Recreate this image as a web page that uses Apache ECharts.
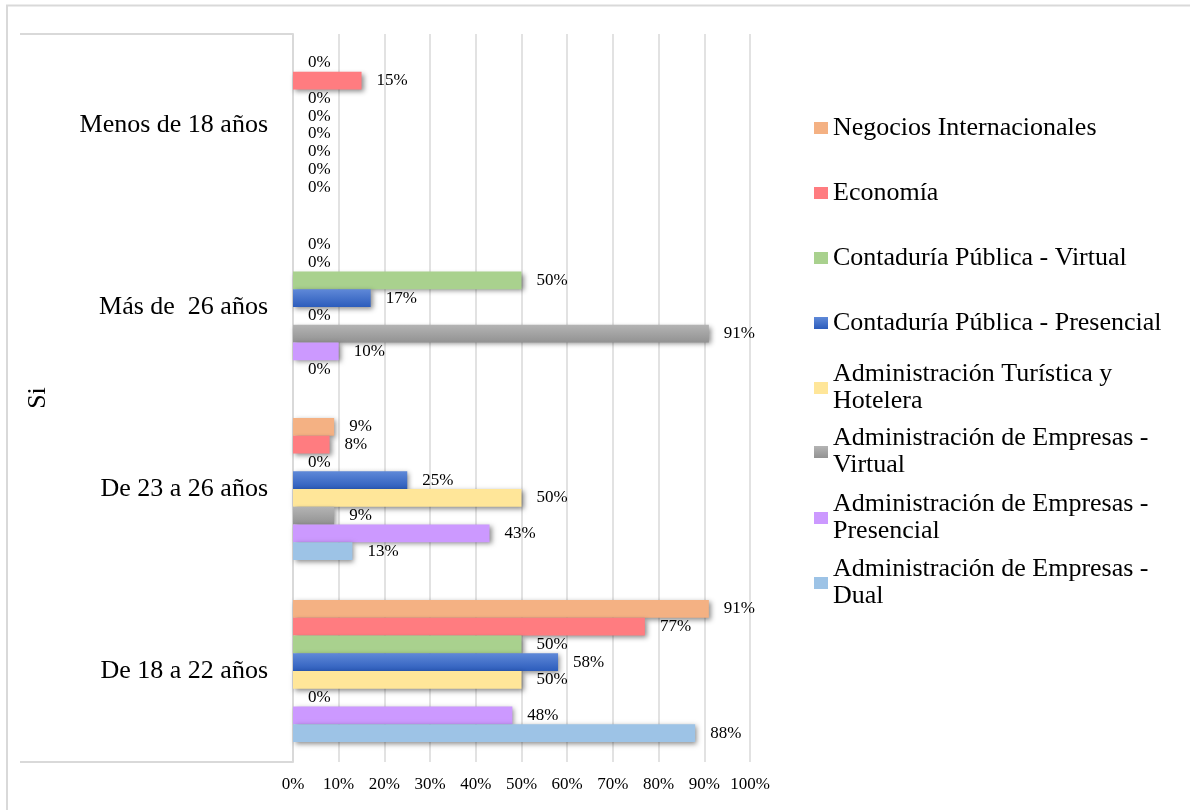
<!DOCTYPE html>
<html>
<head>
<meta charset="utf-8">
<script src="https://cdn.jsdelivr.net/npm/echarts@6/dist/echarts.min.js"></script>
<style>
  html, body { margin: 0; padding: 0; background: #fff; }
  #chart { width: 1190px; height: 810px; }
</style>
</head>
<body>
<div id="chart"></div>
<script>
// Age groups (bottom to top on the category axis)
const categories = ['De 18 a 22 años', 'De 23 a 26 años', 'Más de  26 años', 'Menos de 18 años'];
const outerGroup = ['Si'];

// Share of students per programme, in percent
const admDual       = [88, 13, 0, 0];
const admPresencial = [48, 43, 10, 0];
const admVirtual    = [0, 9, 91, 0];
const turistica     = [50, 50, 0, 0];
const contPresencial = [58, 25, 17, 0];
const contVirtual   = [50, 0, 50, 0];
const economia      = [77, 8, 0, 15];
const negocios      = [91, 9, 0, 0];

const xTicks = [0, 10, 20, 30, 40, 50, 60, 70, 80, 90, 100];

const FONT = '"Liberation Serif", "Times New Roman", serif';

// Listed top to bottom within each age group
const seriesDefs = [
  { name: 'Negocios Internacionales', data: negocios, color: '#F4B183' },
  { name: 'Economía', data: economia, color: '#FF7C80' },
  { name: 'Contaduría Pública - Virtual', data: contVirtual, color: '#A9D18E' },
  { name: 'Contaduría Pública - Presencial', data: contPresencial,
    color: { type: 'linear', x: 0, y: 0, x2: 0, y2: 1,
      colorStops: [{ offset: 0, color: '#5F89D8' }, { offset: 1, color: '#2C5CBC' }] } },
  { name: 'Administración Turística y Hotelera', data: turistica, color: '#FFE699' },
  { name: 'Administración de Empresas - Virtual', data: admVirtual,
    color: { type: 'linear', x: 0, y: 0, x2: 0, y2: 1,
      colorStops: [{ offset: 0, color: '#B4B4B4' }, { offset: 1, color: '#929292' }] } },
  { name: 'Administración de Empresas - Presencial', data: admPresencial, color: '#CC99FF' },
  { name: 'Administración de Empresas - Dual', data: admDual, color: '#9DC3E6' }
];

// Legend labels that wrap onto two lines
const wrapped = {
  'Administración Turística y Hotelera': 'Administración Turística y\nHotelera',
  'Administración de Empresas - Virtual': 'Administración de Empresas -\nVirtual',
  'Administración de Empresas - Presencial': 'Administración de Empresas -\nPresencial',
  'Administración de Empresas - Dual': 'Administración de Empresas -\nDual'
};

// Legend entries, top to bottom, with the y of each first text line
const legendSlots = [
  ['Negocios Internacionales', 128],
  ['Economía', 193],
  ['Contaduría Pública - Virtual', 258],
  ['Contaduría Pública - Presencial', 323],
  ['Administración Turística y Hotelera', 388],
  ['Administración de Empresas - Virtual', 452],
  ['Administración de Empresas - Presencial', 518],
  ['Administración de Empresas - Dual', 583]
];

const legends = legendSlots.map(([name, y]) => {
  const twoLines = !!wrapped[name];
  return {
    data: [name],
    left: 814,
    top: twoLines ? y - 40.5 : y - 13.5,
    orient: 'vertical',
    padding: 0,
    itemGap: 0,
    itemWidth: 14,
    itemHeight: 12,
    icon: 'rect',
    selectedMode: false,
    formatter: n => wrapped[n] || n,
    textStyle: {
      fontFamily: FONT, fontSize: 26, lineHeight: 27, color: '#000',
      padding: twoLines ? [27, 0, 0, 0] : 0
    }
  };
});

const chart = echarts.init(document.getElementById('chart'));
chart.setOption({
  backgroundColor: '#fff',
  animation: false,
  textStyle: { fontFamily: FONT },
  graphic: [{
    type: 'rect',
    shape: { x: 7, y: 5.5, width: 1300, height: 1000 },
    style: { fill: 'none', stroke: '#D9D9D9', lineWidth: 2 },
    silent: true
  }],
  legend: legends,
  grid: { left: 293, right: 440, top: 34, bottom: 48, containLabel: false },
  xAxis: {
    type: 'value',
    min: 0, max: 100, interval: 10,
    axisLine: { show: false },
    axisTick: { show: false },
    splitLine: { show: true, lineStyle: { color: '#D9D9D9', width: 1.5 } },
    axisLabel: {
      margin: 14, fontSize: 17, fontFamily: FONT, color: '#000',
      formatter: v => xTicks.includes(v) ? v + '%' : ''
    }
  },
  yAxis: [{
    type: 'category',
    data: categories,
    axisLine: { show: true, lineStyle: { color: '#D9D9D9', width: 2 } },
    axisTick: { show: false },
    axisLabel: { margin: 25, fontSize: 26, fontFamily: FONT, color: '#000' }
  }, {
    type: 'category',
    data: outerGroup,
    position: 'left',
    offset: 273,
    axisLine: { show: false },
    axisTick: { show: true, inside: true, length: 273, lineStyle: { color: '#D9D9D9', width: 2 } },
    axisLabel: { inside: true, rotate: 90, margin: 5, fontSize: 26, fontFamily: FONT, color: '#000' }
  }],
  series: seriesDefs.map(s => ({
    type: 'bar',
    name: s.name,
    data: s.data,
    yAxisIndex: 0,
    barGap: '0%',
    barCategoryGap: '22%',
    itemStyle: {
      color: s.color,
      shadowColor: 'rgba(0,0,0,0.45)',
      shadowBlur: 5,
      shadowOffsetX: 2,
      shadowOffsetY: 2
    },
    label: {
      show: true,
      position: 'right',
      distance: 15,
      formatter: '{c}%',
      fontSize: 17,
      fontFamily: FONT,
      color: '#000'
    }
  }))
});
</script>
</body>
</html>
